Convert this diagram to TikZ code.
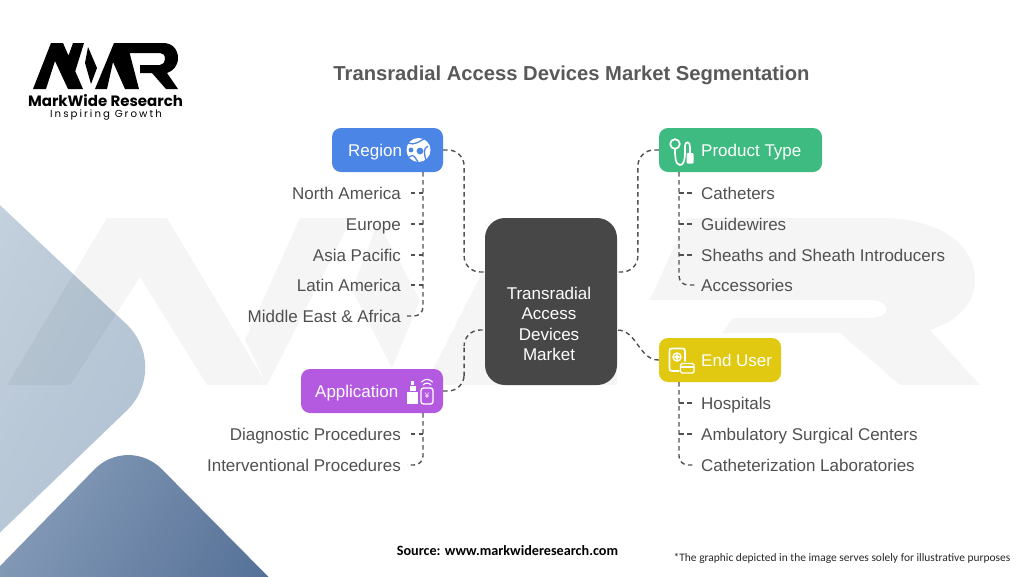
\documentclass[tikz,border=0pt]{standalone}
\usepackage{fontspec}
\setmainfont{Liberation Sans}
\newfontfamily\carlito{Carlito}
\newfontfamily\poppins{Poppins}
\newfontfamily\poppinswide[LetterSpace=20]{Poppins}
\usetikzlibrary{calc}
\definecolor{regionblue}{HTML}{4B85E5}
\definecolor{typegreen}{HTML}{3DBB80}
\definecolor{apppurple}{HTML}{B45AE0}
\definecolor{useryellow}{HTML}{E0C910}
\definecolor{hubgray}{HTML}{474747}
\definecolor{leafgray}{HTML}{505050}
\tikzset{
	segbox/.style={rounded corners=9pt,minimum height=44pt,inner sep=0pt},
	seglabel/.style={anchor=west,inner sep=0pt,text height=12.3pt,text depth=0pt,text=white,font=\fontsize{17}{20}\selectfont},
	leafl/.style={anchor=east,inner sep=0pt,text height=12.3pt,text depth=0pt,text=leafgray,font=\fontsize{17}{20}\selectfont},
	leafr/.style={anchor=west,inner sep=0pt,text height=12.3pt,text depth=0pt,text=leafgray,font=\fontsize{17}{20}\selectfont},
	link/.style={draw=leafgray,line width=1.4pt,dash pattern=on 4.5pt off 3.5pt},
	icon/.style={draw=white,line width=1.7pt,line cap=round}
}
\begin{document}
\begin{tikzpicture}[x=1pt,y=-1pt]
	\useasboundingbox (0,0) rectangle (1024,576);
	\begin{scope}
		\clip (0,0) rectangle (1024,576);
		\shade[left color={rgb,255:red,208;green,218;blue,228},right color={rgb,255:red,172;green,190;blue,208},shading angle=60,rounded corners=63pt] (-200,17)--(172,367)--(-200,725)--cycle;
		\shade[left color={rgb,255:red,152;green,172;blue,196},right color={rgb,255:red,62;green,92;blue,136},shading angle=60,rounded corners=48pt] (-160,730)--(128,435)--(420,730)--cycle;
		\fill[black,fill opacity=0.04] (7,385)--(107,218)--(167,218)--(267,385)--(207,385)--(140,277)--(70,385)--cycle
			(300,218)--(352,218)--(267,385)--(245,340)--cycle
			(378,222)--(420,300)--(392,368)--(352,290)--cycle
			(425,385)--(510,218)--(590,218)--(617,262)--(617,385)--cycle
			(650,300)--(687,218)--(880,218)..controls (940,218) and (975,245)..(975,280)..controls (975,305) and (955,322)..(930,330)--(980,385)--(900,385)--(840,333)--(722,333)--(733,318)--(870,318)..controls (892,318) and (892,300)..(870,300)--cycle;
	\end{scope}
	% logo
	\fill[black] (33,89)--(51,43)--(63,43)--(83,89)--(68,89)--(55,61)--(46,89)--cycle
		(73,43)--(84,43)--(75,72)--(68,57)--cycle
		(88,47)--(97,68)--(91,84)--(85,63)--cycle
		(95,89)--(114,43)--(127,43)--(139,89)--(125,89)--(113,62)--(107,89)--cycle
		(122,43)--(163,43)..controls (173,43) and (178,50)..(178,58)..controls (178,66) and (173,71)..(167,73)--(178,89)--(166,89)--(152,73)--(140,73)--(140,65)--(160,65)..controls (163,65) and (165,62)..(165,59)..controls (165,55) and (163,53)..(160,53)--(127,53)--cycle;
	\node[inner sep=0pt,font=\poppins\bfseries\fontsize{15}{17}\selectfont] (brand) at (105.5,101) {MarkWide Research};
	\node[inner sep=0pt,font=\poppinswide\fontsize{10.2}{12}\selectfont] (motto) at (106,115) {Inspiring Growth};
	\node[inner sep=0pt,text=black!65,font=\bfseries\fontsize{20.2}{24}\selectfont] (title) at (571.5,75.5) {Transradial Access Devices Market Segmentation};

	\node[segbox,fill=hubgray,rounded corners=20pt,minimum width=132pt,minimum height=167pt] (hub) at (551,301.5) {};
	\node[inner sep=0pt,align=center,text=white,font=\fontsize{17}{20.4}\selectfont] (hubtext) at (549,324) {Transradial\\Access\\Devices\\Market};
	\coordinate (hubnw) at (485,272);
	\coordinate (hubsw) at (485,330);
	\coordinate (hubne) at (617,272);
	\coordinate (hubse) at (617,330);

	\node[segbox,fill=regionblue,minimum width=111pt] (region) at (387.5,150) {};
	\node[seglabel] (regionlabel) at (348,150) {Region};
	\node[segbox,fill=typegreen,minimum width=163pt] (product) at (740.5,150) {};
	\node[seglabel] (productlabel) at (701,150) {Product Type};
	\node[segbox,fill=apppurple,minimum width=142pt] (application) at (372,391) {};
	\node[seglabel] (applicationlabel) at (315,391) {Application};
	\node[segbox,fill=useryellow,minimum width=122pt] (enduser) at (720,360) {};
	\node[seglabel] (enduserlabel) at (701,360) {End User};

	\node[leafl] (na) at (401,193) {North America};
	\node[leafl] (eu) at (401,224) {Europe};
	\node[leafl] (ap) at (401,255) {Asia Pacific};
	\node[leafl] (la) at (401,285) {Latin America};
	\node[leafl] (me) at (401,316) {Middle East \& Africa};
	\node[leafr] (cath) at (701,193) {Catheters};
	\node[leafr] (guide) at (701,224) {Guidewires};
	\node[leafr] (sheath) at (701,255) {Sheaths and Sheath Introducers};
	\node[leafr] (acc) at (701,285) {Accessories};
	\node[leafl] (diag) at (401,434) {Diagnostic Procedures};
	\node[leafl] (interv) at (401,465) {Interventional Procedures};
	\node[leafr] (hosp) at (701,403) {Hospitals};
	\node[leafr] (amb) at (701,434) {Ambulatory Surgical Centers};
	\node[leafr] (lab) at (701,465) {Catheterization Laboratories};

	\draw[link,rounded corners=16pt] (region.east) -| ($(region.east)!.5!(hubnw)$) |- (hubnw);
	\draw[link,rounded corners=16pt] (application.east) -| ($(application.east)!.5!(hubsw)$) |- (hubsw);
	\draw[link,rounded corners=16pt] (product.west) -| ($(product.west)!.5!(hubne)$) |- (hubne);
	\draw[link] (enduser.west) to[out=180,in=0] (hubse);

	\coordinate (regiontrunk) at (423,172);
	\coordinate (apptrunk) at (423,413);
	\coordinate (typetrunk) at (679,172);
	\coordinate (usertrunk) at (679,382);
	\coordinate (leftgap) at (407,0);
	\coordinate (rightgap) at (695,0);
	\draw[link,rounded corners=9pt] (regiontrunk) |- (me.east -| leftgap);
	\draw[link] (na.east -| regiontrunk) -- (na.east -| leftgap);
	\draw[link] (eu.east -| regiontrunk) -- (eu.east -| leftgap);
	\draw[link] (ap.east -| regiontrunk) -- (ap.east -| leftgap);
	\draw[link] (la.east -| regiontrunk) -- (la.east -| leftgap);
	\draw[link,rounded corners=9pt] (apptrunk) |- (interv.east -| leftgap);
	\draw[link] (diag.east -| apptrunk) -- (diag.east -| leftgap);
	\draw[link,rounded corners=9pt] (typetrunk) |- (acc.west -| rightgap);
	\draw[link] (cath.west -| typetrunk) -- (cath.west -| rightgap);
	\draw[link] (guide.west -| typetrunk) -- (guide.west -| rightgap);
	\draw[link] (sheath.west -| typetrunk) -- (sheath.west -| rightgap);
	\draw[link,rounded corners=9pt] (usertrunk) |- (lab.west -| rightgap);
	\draw[link] (hosp.west -| usertrunk) -- (hosp.west -| rightgap);
	\draw[link] (amb.west -| usertrunk) -- (amb.west -| rightgap);

	% icons
	\fill[white] (418.5,150) circle (12);
	\draw[regionblue,line width=1.3pt] (408,143)..controls (414,146) and (420,141)..(424,139);
	\draw[regionblue,line width=1.3pt] (428,146)..controls (423,149) and (424,153)..(426,160);
	\draw[regionblue,line width=1.3pt] (409,157)..controls (414,154) and (414,156)..(418,162);
	\fill[regionblue] (420,151) circle (3.4) (411,150) circle (2.4);
	\fill[white] (407,392) rectangle (418,404);
	\fill[white] (409.5,386) rectangle (415.5,391);
	\fill[white] (411,381) rectangle (414,385);
	\draw[icon,line width=1.4pt,rounded corners=2.5pt] (421,388) rectangle (433,404);
	\draw[icon,line width=1.1pt] (423,385)..controls (425,382.5) and (429,382.5)..(431,385);
	\draw[icon,line width=1.1pt] (421.5,382)..controls (425,378.5) and (429,378.5)..(432.5,382);
	\node[inner sep=0pt,text=white,font=\fontsize{8}{8}\selectfont] (yen) at (427,395.5) {¥};
	\draw[icon] (675,144) circle (4.8);
	\draw[icon] (675,149)..controls (675,155) and (675,165)..(680,165)..controls (686,165) and (685,150)..(685,146)..controls (685,141) and (690,141)..(690,147)--(690,154);
	\fill[white,rounded corners=1pt] (686.5,153) rectangle (693.5,163.5);
	\draw[icon] (679,371) -- (672,371) .. controls (670,371) and (669.5,370) .. (669.5,368) -- (669.5,351) .. controls (669.5,349) and (670,348.5) .. (672,348.5) -- (682,348.5) .. controls (684,348.5) and (685,349) .. (685,351) -- (685,361);
	\draw[icon,line width=1.4pt] (677,357) circle (4);
	\draw[icon,line width=1.2pt] (677,354.8)--(677,359.2) (674.8,357)--(679.2,357);
	\draw[icon,line width=1.4pt,rounded corners=1.5pt] (680.5,363.5) rectangle (694,373);
	\draw[icon,line width=1.2pt] (680.5,367)--(694,367);

	\node[inner sep=0pt,font=\carlito\bfseries\fontsize{14.2}{17}\selectfont] (source) at (507.5,551) {Source: www.markwideresearch.com};
	\node[inner sep=0pt,text=black!85,font=\carlito\fontsize{11.45}{14}\selectfont] (disclaimer) at (842,558) {*The graphic depicted in the image serves solely for illustrative purposes};
\end{tikzpicture}
\end{document}
